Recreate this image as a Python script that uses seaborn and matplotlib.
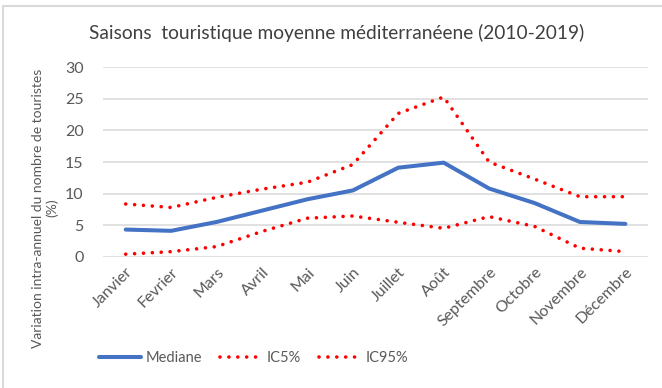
import matplotlib
matplotlib.use("Agg")
import matplotlib.pyplot as plt
from matplotlib.lines import Line2D
import seaborn as sns
import pandas as pd

mois = ["Janvier", "Fevrier", "Mars", "Avril", "Mai", "Juin", "Juillet",
        "Août", "Septembre", "Octobre", "Novembre", "Décembre"]
mediane = [4.3, 4.1, 5.5, 7.3, 9.1, 10.5, 14.1, 14.9, 10.8, 8.5, 5.5, 5.2]
ic5 = [0.4, 0.8, 1.6, 4.0, 6.1, 6.45, 5.45, 4.5, 6.35, 4.8, 1.35, 0.8]
ic95 = [8.35, 7.8, 9.4, 10.7, 11.8, 14.6, 22.7, 25.3, 15.0, 12.3, 9.5, 9.5]

sns.set_theme(style="white")
plt.rcParams["font.family"] = ["Lato", "DejaVu Sans"]

df = pd.DataFrame({
    "mois": mois * 3,
    "valeur": mediane + ic5 + ic95,
    "serie": ["Mediane"] * 12 + ["IC5%"] * 12 + ["IC95%"] * 12,
})
df["x"] = list(range(12)) * 3

fig = plt.figure(figsize=(6.62, 3.88), dpi=100)
ax = fig.add_axes([0.1556, 0.3384, 0.8234, 0.4881])

blue = "#4472C4"
red = "#FF0000"
grey = "#595959"
dot = (0, (0.01, 2.45))

sns.lineplot(data=df[df.serie == "Mediane"], x="x", y="valeur", ax=ax,
             color=blue, linewidth=2.9, solid_capstyle="round", legend=False)
for name in ["IC5%", "IC95%"]:
    sns.lineplot(data=df[df.serie == name], x="x", y="valeur", ax=ax,
                 color=red, linewidth=2.6, linestyle=dot,
                 dash_capstyle="round", legend=False)

ax.set_xlim(-0.5, 11.5)
ax.set_ylim(0, 30)
ax.set_yticks(range(0, 31, 5))
ax.set_xticks(range(12))
ax.set_xticklabels(mois, rotation=45, ha="right", rotation_mode="anchor",
                   fontsize=11.5, color=grey)
ax.tick_params(axis="y", labelsize=11.5, labelcolor=grey, length=0, pad=14)
ax.tick_params(axis="x", length=0, pad=6)
ax.set_xlabel("")
ax.set_ylabel("")
ax.grid(axis="y", color="#D9D9D9", linewidth=1.1)
ax.set_axisbelow(True)
for s in ax.spines.values():
    s.set_visible(False)

fig.text(0.508, 0.915, "Saisons  touristique moyenne méditerranéene (2010-2019)",
         ha="center", va="center", fontsize=13.8, color="#404040")
fig.text(0.068, 0.464, "Variation intra-annuel du nombre de touristes\n(%)",
         ha="center", va="center", rotation=90, fontsize=10, color=grey,
         linespacing=1.15)

# chart frame
fig.add_artist(Line2D([0.0045, 1.0], [0.985, 0.985], transform=fig.transFigure,
                      color="#D9D9D9", linewidth=1.5))
fig.add_artist(Line2D([0.0045, 0.0045], [0.0, 0.985], transform=fig.transFigure,
                      color="#D9D9D9", linewidth=1.5))

handles = [
    Line2D([], [], color=blue, linewidth=2.9, solid_capstyle="round"),
    Line2D([], [], color=red, linewidth=2.6, linestyle=dot, dash_capstyle="round"),
    Line2D([], [], color=red, linewidth=2.6, linestyle=dot, dash_capstyle="round"),
]
fig.legend(handles, ["Mediane", "IC5%", "IC95%"], loc="center",
           bbox_to_anchor=(0.383, 0.077), ncol=3, frameon=False,
           fontsize=10.5, handlelength=2.9, handletextpad=0.3, columnspacing=1.25,
           labelcolor=grey)

fig.savefig("out.png", dpi=100, facecolor="white")
